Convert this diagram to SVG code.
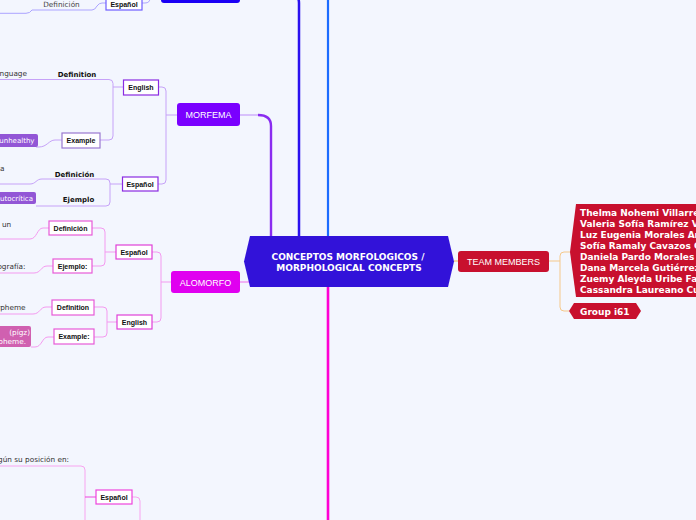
<svg xmlns="http://www.w3.org/2000/svg" width="696" height="520" viewBox="0 0 696 520">
<style>
.bl{font-family:"Liberation Sans",Arial,sans-serif;font-weight:bold;font-size:7px;fill:#111;text-anchor:middle}
.ul{font-family:"DejaVu Sans",Verdana,sans-serif;font-weight:bold;font-size:7px;fill:#111;text-anchor:middle}
.gr{font-family:"DejaVu Sans",Verdana,sans-serif;font-size:7.3px;fill:#333}
.wt{font-family:"DejaVu Sans",Verdana,sans-serif;font-size:7px;fill:#fff;text-anchor:end}
.mn{font-family:"Liberation Sans",Arial,sans-serif;font-size:9px;fill:#fff;text-anchor:middle}
.nm{font-family:"DejaVu Sans",Verdana,sans-serif;font-weight:bold;font-size:9px;fill:#fff}
.box{fill:#fff;stroke-width:1.2}
.c{fill:none;stroke-width:1}
</style>
<rect width="696" height="520" fill="#f3f6fe"/>
<g id="connectors">
  <path d="M240,-6 H290 Q299,-6 299,3 V236" fill="none" stroke="#2a10f0" stroke-width="2.5"/>
  <path d="M328,0 V236" stroke="#1c6cff" stroke-width="2.2"/>
  <path d="M240,115 H258" fill="none" stroke="#c9a4fb" stroke-width="1.3"/>
  <path d="M258,115 Q271,115 271,126 V236" fill="none" stroke="#8a2cf0" stroke-width="2.4"/>
  <path d="M328,287 V520" stroke="#ff00d4" stroke-width="2.6"/>
  <path d="M240,282 H249" stroke="#f08cf0" stroke-width="1.3"/>
  <path d="M454,261 H458" stroke="#f3c27a" stroke-width="1.3"/>
  <path class="c" stroke="#aca4ff" d="M0,13.3 H26 Q30,13.3 32,10 H92 Q95,10 97,6 Q99,3 102,3 H106"/>
  <path class="c" stroke="#aca4ff" d="M142,3 H145 Q150,3 150,-2 V-10"/>
  <path class="c" stroke="#c6a2f8" d="M177,115 H166 M158,87 H162 Q166,87 166,91 V180 Q166,184 162,184 H158"/>
  <path class="c" stroke="#c6a2f8" d="M123,87 H113 M0,79.5 H109 Q113,79.5 113,83.5 V136 Q113,140 109,140 H100"/>
  <path class="c" stroke="#c6a2f8" d="M62,140 H55 C49,140 47,147 39,147 H36"/>
  <path class="c" stroke="#c6a2f8" d="M122,184 H110 M0,184 H30 C36,184 36,179 42,179 H106 Q110,179 110,183 V202 Q110,206 106,206 H36"/>
  <path class="c" stroke="#f39af0" d="M171,282 H161 M152,252 H157 Q161,252 161,256 V318 Q161,322 157,322 H152"/>
  <path class="c" stroke="#f39af0" d="M116,252 H105 M92,228 H101 Q105,228 105,232 V262 Q105,266 101,266 H92"/>
  <path class="c" stroke="#f39af0" d="M117,322 H107 M94,307 H103 Q107,307 107,311 V333 Q107,337 103,337 H94"/>
  <path class="c" stroke="#f39af0" d="M49,228 H43 C37,228 37,239 30,239 H0"/>
  <path class="c" stroke="#f39af0" d="M53,266 H47 C41,266 41,273 34,273 H0"/>
  <path class="c" stroke="#f39af0" d="M52,307 H46 C40,307 40,314 33,314 H0"/>
  <path class="c" stroke="#f39af0" d="M54,337 H48 C42,337 42,347 35,347 H31"/>
  <path class="c" stroke="#f5c88a" d="M549,261 H560 M570,252 H564 Q560,252 560,256 V307 Q560,311 564,311 H569"/>
  <path class="c" stroke="#f8a4f0" d="M0,466 H81 Q85,466 85,470 V520"/>
  <path class="c" stroke="#ee44dd" d="M85,497 H96"/>
  <path class="c" stroke="#f8a4f0" d="M132,497 H136 Q140,497 140,501 V520"/>
</g>
<g id="central">
  <polygon points="250,236 448,236 454,261.5 448,287 250,287 244,261.5" fill="#3212d9"/>
  <text class="nm" x="348" y="259.5" text-anchor="middle">CONCEPTOS MORFOLOGICOS /</text>
  <text class="nm" x="349" y="270.5" text-anchor="middle">MORPHOLOGICAL CONCEPTS</text>
</g>
<g id="top-node"><rect x="161" y="-20" width="79" height="23" rx="3" fill="#1a00f5"/></g>
<g id="top-espanol"><rect class="box" x="106" y="-5" width="36" height="15" stroke="#6e5eff"/><text class="bl" x="124" y="6.5">Español</text></g>
<g id="top-definicion"><text class="gr" x="61.5" y="6.5" text-anchor="middle" style="fill:#444">Definición</text></g>

<g id="morfema"><rect x="177" y="103" width="63" height="23" rx="3" fill="#7a00ff"/><text class="mn" x="208.5" y="118">MORFEMA</text></g>
<g id="morfema-english"><rect class="box" x="123.5" y="80" width="35" height="15" stroke="#8a2be2"/><text class="bl" x="141" y="90">English</text></g>
<g id="morfema-definition"><text class="ul" x="77" y="76.5">Definition</text></g>
<g id="morfema-def-text"><text class="gr" x="27" y="76" text-anchor="end">language</text></g>
<g id="morfema-example"><rect class="box" x="62" y="133" width="38" height="15" stroke="#9a78d0"/><text class="bl" x="81" y="143">Example</text></g>
<g id="morfema-example-text"><rect x="-5" y="134" width="43" height="13" rx="2" fill="#9256d6"/><text class="wt" x="34.5" y="143">unhealthy</text></g>
<g id="morfema-espanol"><rect class="box" x="122.5" y="177" width="35.5" height="14" stroke="#8a2be2"/><text class="bl" x="140" y="186.5">Español</text></g>
<g id="morfema-definicion"><text class="ul" x="74.5" y="176.5">Definición</text></g>
<g id="morfema-definicion-text"><text class="gr" x="4.5" y="170.5" text-anchor="end">a</text></g>
<g id="morfema-ejemplo"><text class="ul" x="78.5" y="201.5">Ejemplo</text></g>
<g id="morfema-ejemplo-text"><rect x="-5" y="192" width="41" height="12" rx="2" fill="#9256d6"/><text class="wt" x="33" y="200.5">autocrítica</text></g>

<g id="alomorfo"><rect x="171" y="271" width="69" height="22" rx="3" fill="#e000f0"/><text class="mn" x="205.5" y="285.5">ALOMORFO</text></g>
<g id="alomorfo-espanol"><rect class="box" x="116" y="245" width="36" height="14" stroke="#e040d8"/><text class="bl" x="134" y="254.5">Español</text></g>
<g id="alomorfo-english"><rect class="box" x="117" y="315" width="35" height="14" stroke="#e040d8"/><text class="bl" x="134.5" y="324.5">English</text></g>
<g id="alomorfo-definicion"><rect class="box" x="49" y="221" width="43" height="14" stroke="#e85ad8"/><text class="bl" x="70.5" y="230.5">Definición</text></g>
<g id="alomorfo-definicion-text"><text class="gr" x="2" y="226.5">un</text></g>
<g id="alomorfo-ejemplo"><rect class="box" x="53" y="259" width="39" height="14" stroke="#e85ad8"/><text class="bl" x="72.5" y="268.5">Ejemplo:</text></g>
<g id="alomorfo-ejemplo-text"><text class="gr" x="25.5" y="269" text-anchor="end">ortografía:</text></g>
<g id="alomorfo-definition"><rect class="box" x="52" y="300" width="42" height="15" stroke="#e85ad8"/><text class="bl" x="73" y="310">Definition</text></g>
<g id="alomorfo-definition-text"><text class="gr" x="25.5" y="309.5" text-anchor="end">morpheme</text></g>
<g id="alomorfo-example"><rect class="box" x="54" y="329" width="40" height="15" stroke="#e85ad8"/><text class="bl" x="74" y="339">Example:</text></g>
<g id="alomorfo-example-text"><rect x="-5" y="326" width="36" height="21" rx="2" fill="#d060b0"/><text class="wt" x="30" y="334.5" style="font-size:7.3px">(pígz)</text><text class="wt" x="26" y="344" style="font-size:7.3px">morpheme.</text></g>

<g id="team-members"><rect x="458" y="251" width="91" height="21" rx="3" fill="#c8102e"/><text class="mn" x="503.5" y="264.5">TEAM MEMBERS</text></g>
<g id="team-names"><polygon points="576,204 700,204 700,297 576,297 570,252" fill="#c8102e"/>
<text class="nm" x="580" y="215.5">Thelma Nohemi Villarreal</text>
<text class="nm" x="580" y="226.5">Valeria Sofía Ramírez V</text>
<text class="nm" x="580" y="237.5">Luz Eugenia Morales Ar</text>
<text class="nm" x="580" y="248.5">Sofía Ramaly Cavazos C</text>
<text class="nm" x="580" y="259.5">Daniela Pardo Morales</text>
<text class="nm" x="580" y="270.5">Dana Marcela Gutiérrez</text>
<text class="nm" x="580" y="281.5">Zuemy Aleyda Uribe Fa</text>
<text class="nm" x="580" y="292.5">Cassandra Laureano Cu</text>
</g>
<g id="group-i61"><polygon points="569,311 574,303 636,303 641,311 636,319 574,319" fill="#c8102e"/><text class="nm" x="580" y="314.5">Group i61</text></g>

<g id="bottom-text"><text class="gr" x="69" y="461.5" text-anchor="end">Según su posición en:</text></g>
<g id="bottom-espanol"><rect class="box" x="96" y="490" width="36" height="14" stroke="#ee44dd"/><text class="bl" x="114" y="499.5">Español</text></g>
</svg>
